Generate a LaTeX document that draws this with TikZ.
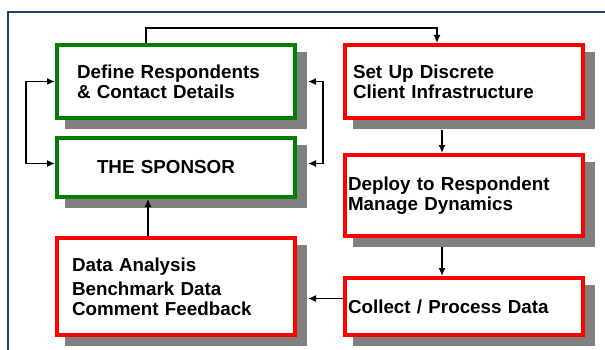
\documentclass[tikz,border=0pt]{standalone}
\usepackage{fontspec}
\setmainfont{Liberation Sans}
\usetikzlibrary{positioning, arrows.meta, shadows}
\definecolor{framenavy}{HTML}{1F3F73}
\definecolor{boxgreen}{HTML}{008000}
\definecolor{boxred}{HTML}{FF0000}
\definecolor{shadowgray}{HTML}{808080}
\tikzset {
    >={Latex[length=8pt,width=7pt]},
    node distance=16pt,
    flowbox/.style={draw, line width=4pt, fill=white, minimum width=238pt,
        align=left, font=\fontsize{18.8pt}{20pt}\selectfont\bfseries,
        drop shadow={shadow xshift=10pt, shadow yshift=-9pt, fill=shadowgray,
            draw=shadowgray, line width=4pt, opacity=1}},
    greenbox/.style={flowbox, draw=boxgreen},
    redbox/.style={flowbox, draw=boxred},
    link/.style={line width=1.5pt}
}

\begin{document}
\begin{tikzpicture}[x=1pt, y=1pt]
    \useasboundingbox (0,0) rectangle (605,349);
    % outer frame, only its left and top sides fall inside the picture
    \draw[framenavy, line width=2.5pt] (8,-5) -- (8,337) -- (610,337);

    \node[greenbox, inner xsep=20pt, text width=198pt, minimum height=73pt] (define) at (176,267.5) {Define Respondents\\\& Contact Details};
    \node[greenbox, inner xsep=40pt, text width=158pt, minimum height=59pt, below=of define] (sponsor) {THE SPONSOR};
    \node[redbox, inner xsep=15pt, text width=208pt, minimum height=97pt, below=37pt of sponsor] (data) {Data Analysis\\[4pt]Benchmark Data\\Comment Feedback};
    \node[redbox, inner xsep=8pt, text width=222pt, minimum height=73pt, right=46pt of define] (setup) {Set Up Discrete\\Client Infrastructure};
    \node[redbox, inner xsep=3pt, text width=232pt, minimum height=81pt, below=33pt of setup] (deploy) {Deploy to Respondent\\Manage Dynamics};
    \node[redbox, inner xsep=3pt, text width=232pt, minimum height=57pt, below=38pt of deploy] (collect) {Collect / Process Data};

    \draw[link, ->] ([xshift=-30pt]define.north) -- ++(0,15pt) -| ([xshift=-27pt]setup.north);
    \draw[link, <->] (define.west) -- ++(-29pt,0) |- ([yshift=4pt]sponsor.west);
    \draw[link, <->, shorten <=11pt, shorten >=11pt] (define.east) -- ++(26pt,0) |- ([yshift=4pt]sponsor.east);
    \draw[link, ->, shorten <=10pt] ([xshift=-22pt]setup.south) -- ([xshift=-22pt]deploy.north);
    \draw[link, ->, shorten <=9pt] ([xshift=-22pt]deploy.south) -- ([xshift=-22pt]collect.north);
    \draw[link, ->, shorten >=11pt] ([yshift=8pt]collect.west) -- ([yshift=8pt]collect.west -| data.east);
    \draw[link, ->] ([xshift=-28pt]data.north) -- ([xshift=-28pt]sponsor.south);
\end{tikzpicture}
\end{document}
